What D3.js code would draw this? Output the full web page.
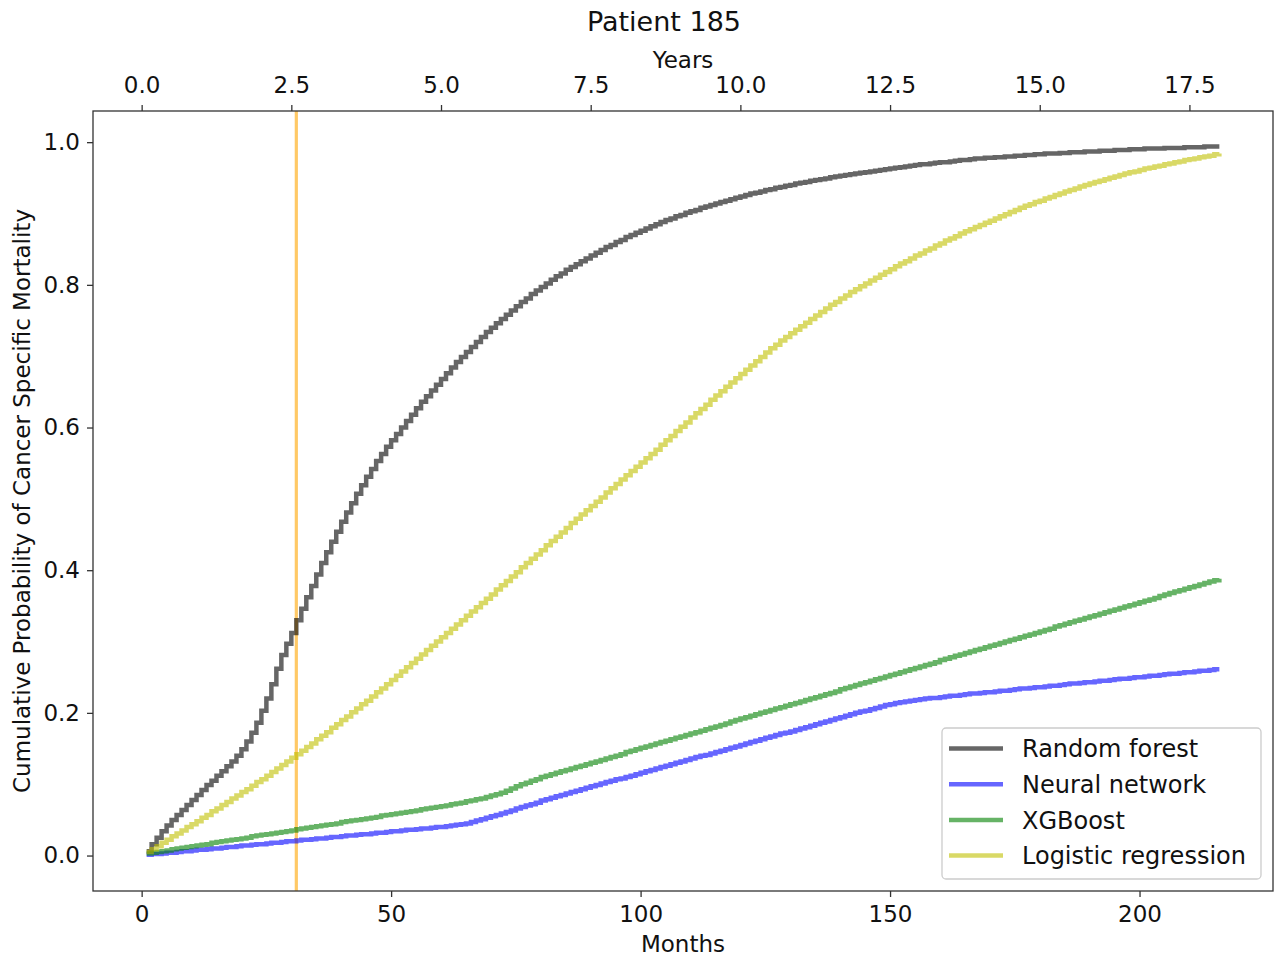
<!DOCTYPE html>
<html>
<head>
<meta charset="utf-8">
<script src="https://cdn.jsdelivr.net/npm/d3@7"></script>
<style>
  body { margin: 0; background: #ffffff; }
  text { font-family: "DejaVu Sans", sans-serif; fill: #111111; }
</style>
</head>
<body>
<svg id="chart" width="1282" height="960"></svg>
<script>
// ---- data: cumulative probability of cancer specific mortality, one value per month (months 1..216)
const chartTitle = "Patient 185";
const seriesNames = ["Random forest", "Neural network", "XGBoost", "Logistic regression"];

const randomForest = [
  0.006,0.016,0.025,0.034,0.042,0.050,0.057,0.064,0.071,0.078,
  0.085,0.092,0.099,0.105,0.112,0.118,0.125,0.132,0.140,0.149,
  0.160,0.172,0.186,0.203,0.220,0.240,0.262,0.281,0.297,0.312,
  0.330,0.346,0.362,0.378,0.394,0.410,0.425,0.440,0.454,0.468,
  0.481,0.494,0.507,0.519,0.531,0.542,0.553,0.563,0.573,0.582,
  0.591,0.600,0.609,0.618,0.627,0.636,0.644,0.652,0.660,0.668,
  0.676,0.684,0.692,0.699,0.706,0.713,0.720,0.727,0.734,0.740,
  0.746,0.752,0.758,0.764,0.770,0.776,0.781,0.787,0.792,0.797,
  0.802,0.807,0.812,0.816,0.821,0.825,0.829,0.833,0.837,0.841,
  0.845,0.849,0.853,0.856,0.860,0.863,0.867,0.870,0.873,0.876,
  0.879,0.882,0.885,0.888,0.891,0.893,0.896,0.898,0.901,0.903,
  0.905,0.908,0.910,0.912,0.914,0.916,0.918,0.920,0.922,0.924,
  0.926,0.928,0.929,0.931,0.933,0.934,0.936,0.937,0.939,0.940,
  0.942,0.943,0.944,0.946,0.947,0.948,0.949,0.951,0.952,0.953,
  0.954,0.955,0.956,0.957,0.958,0.959,0.960,0.961,0.962,0.963,
  0.964,0.965,0.966,0.967,0.968,0.969,0.969,0.970,0.971,0.972,
  0.972,0.973,0.974,0.975,0.975,0.976,0.977,0.977,0.978,0.978,
  0.979,0.979,0.980,0.980,0.981,0.981,0.982,0.982,0.983,0.983,
  0.984,0.984,0.984,0.985,0.985,0.986,0.986,0.986,0.987,0.987,
  0.987,0.988,0.988,0.988,0.989,0.989,0.989,0.990,0.990,0.990,
  0.991,0.991,0.991,0.991,0.992,0.992,0.992,0.992,0.993,0.993,
  0.993,0.993,0.994,0.994,0.994,0.994
];

const neuralNetwork = [
  0.001,0.002,0.002,0.003,0.004,0.004,0.005,0.006,0.006,0.007,
  0.008,0.008,0.009,0.010,0.010,0.011,0.012,0.012,0.013,0.014,
  0.014,0.015,0.016,0.016,0.017,0.018,0.018,0.019,0.020,0.020,
  0.021,0.022,0.022,0.023,0.024,0.024,0.025,0.026,0.026,0.027,
  0.028,0.028,0.029,0.030,0.030,0.031,0.032,0.032,0.033,0.034,
  0.034,0.035,0.036,0.036,0.037,0.038,0.038,0.039,0.040,0.040,
  0.041,0.042,0.043,0.044,0.045,0.047,0.049,0.051,0.053,0.055,
  0.057,0.059,0.061,0.063,0.066,0.068,0.070,0.072,0.074,0.077,
  0.079,0.081,0.083,0.085,0.087,0.089,0.091,0.093,0.095,0.097,
  0.099,0.101,0.103,0.105,0.107,0.108,0.110,0.112,0.114,0.116,
  0.118,0.120,0.122,0.124,0.126,0.128,0.130,0.132,0.134,0.136,
  0.138,0.140,0.141,0.143,0.145,0.147,0.149,0.151,0.153,0.155,
  0.157,0.159,0.161,0.163,0.165,0.167,0.169,0.171,0.172,0.174,
  0.176,0.178,0.180,0.182,0.184,0.186,0.188,0.190,0.192,0.194,
  0.196,0.198,0.200,0.202,0.203,0.205,0.207,0.209,0.211,0.212,
  0.214,0.215,0.216,0.217,0.218,0.219,0.220,0.221,0.221,0.222,
  0.223,0.224,0.224,0.225,0.226,0.227,0.227,0.228,0.229,0.229,
  0.230,0.231,0.231,0.232,0.233,0.234,0.234,0.235,0.236,0.236,
  0.237,0.238,0.238,0.239,0.240,0.241,0.241,0.242,0.243,0.243,
  0.244,0.245,0.245,0.246,0.247,0.248,0.248,0.249,0.250,0.250,
  0.251,0.252,0.252,0.253,0.254,0.255,0.255,0.256,0.257,0.257,
  0.258,0.259,0.259,0.260,0.261,0.261
];

const xgBoost = [
  0.003,0.004,0.005,0.006,0.007,0.009,0.010,0.011,0.012,0.013,
  0.014,0.015,0.016,0.018,0.019,0.020,0.021,0.022,0.023,0.024,
  0.025,0.027,0.028,0.029,0.030,0.031,0.032,0.033,0.034,0.035,
  0.037,0.038,0.039,0.040,0.041,0.042,0.043,0.044,0.045,0.047,
  0.048,0.049,0.050,0.051,0.052,0.053,0.054,0.056,0.057,0.058,
  0.059,0.060,0.061,0.062,0.063,0.065,0.066,0.067,0.068,0.069,
  0.070,0.072,0.073,0.074,0.076,0.077,0.079,0.080,0.082,0.084,
  0.086,0.088,0.091,0.094,0.097,0.100,0.102,0.105,0.107,0.110,
  0.112,0.114,0.116,0.118,0.120,0.122,0.124,0.126,0.128,0.130,
  0.132,0.134,0.136,0.138,0.140,0.142,0.145,0.147,0.149,0.151,
  0.153,0.155,0.157,0.159,0.161,0.163,0.165,0.167,0.169,0.171,
  0.173,0.175,0.177,0.179,0.181,0.183,0.185,0.188,0.190,0.192,
  0.194,0.196,0.198,0.200,0.202,0.204,0.206,0.208,0.210,0.212,
  0.214,0.216,0.218,0.220,0.222,0.224,0.226,0.228,0.230,0.233,
  0.235,0.237,0.239,0.241,0.243,0.245,0.247,0.249,0.251,0.253,
  0.255,0.257,0.259,0.261,0.263,0.265,0.267,0.269,0.271,0.274,
  0.276,0.278,0.280,0.282,0.284,0.286,0.288,0.290,0.292,0.294,
  0.296,0.298,0.300,0.302,0.304,0.306,0.308,0.310,0.312,0.314,
  0.316,0.318,0.321,0.323,0.325,0.327,0.329,0.331,0.333,0.335,
  0.337,0.339,0.341,0.343,0.345,0.347,0.349,0.351,0.353,0.355,
  0.357,0.359,0.361,0.364,0.366,0.368,0.370,0.372,0.374,0.376,
  0.378,0.380,0.382,0.384,0.386,0.388
];

const logisticRegression = [
  0.005,0.009,0.013,0.018,0.022,0.027,0.031,0.035,0.040,0.044,
  0.048,0.053,0.057,0.062,0.066,0.071,0.075,0.080,0.084,0.089,
  0.093,0.098,0.103,0.107,0.112,0.117,0.122,0.127,0.132,0.137,
  0.142,0.147,0.152,0.157,0.163,0.168,0.173,0.179,0.184,0.190,
  0.195,0.201,0.206,0.212,0.217,0.223,0.229,0.234,0.240,0.246,
  0.252,0.258,0.264,0.270,0.276,0.282,0.288,0.294,0.300,0.306,
  0.312,0.318,0.324,0.330,0.336,0.342,0.348,0.354,0.360,0.366,
  0.373,0.379,0.385,0.391,0.397,0.404,0.410,0.416,0.422,0.428,
  0.435,0.441,0.447,0.453,0.459,0.466,0.472,0.478,0.484,0.490,
  0.496,0.502,0.509,0.515,0.521,0.527,0.533,0.539,0.545,0.551,
  0.557,0.563,0.569,0.576,0.582,0.588,0.595,0.601,0.607,0.614,
  0.620,0.626,0.632,0.639,0.645,0.651,0.657,0.663,0.669,0.675,
  0.681,0.687,0.693,0.699,0.705,0.711,0.716,0.722,0.727,0.732,
  0.737,0.742,0.747,0.752,0.757,0.762,0.767,0.772,0.776,0.781,
  0.785,0.790,0.794,0.798,0.802,0.806,0.810,0.814,0.818,0.822,
  0.826,0.830,0.833,0.837,0.841,0.844,0.848,0.851,0.855,0.858,
  0.862,0.865,0.868,0.872,0.875,0.878,0.881,0.884,0.887,0.890,
  0.893,0.896,0.899,0.902,0.905,0.908,0.911,0.913,0.916,0.918,
  0.921,0.923,0.926,0.928,0.931,0.933,0.935,0.938,0.940,0.942,
  0.944,0.946,0.948,0.950,0.952,0.954,0.956,0.958,0.959,0.961,
  0.963,0.964,0.966,0.967,0.969,0.970,0.972,0.973,0.975,0.976,
  0.977,0.979,0.980,0.981,0.983,0.984
];

const monthTicks = [0, 50, 100, 150, 200];
const yearTicks = [0, 2.5, 5, 7.5, 10, 12.5, 15, 17.5];
const probTicks = [0, 0.2, 0.4, 0.6, 0.8, 1.0];
const markerMonth = 31;   // time of the current assessment

// ---- layout
const svg = d3.select("#chart");
const plot = { left: 93, right: 1273, top: 111, bottom: 891 };
const monthsPerYear = 12;

const x = d3.scaleLinear().domain([-9.75, 226.75]).range([plot.left, plot.right]);
const y = d3.scaleLinear().domain([-0.0497, 1.0437]).range([plot.bottom, plot.top]);

const series = [
  { name: seriesNames[0], values: randomForest,       color: "#000000" },
  { name: seriesNames[1], values: neuralNetwork,      color: "#0000ff" },
  { name: seriesNames[2], values: xgBoost,            color: "#008000" },
  { name: seriesNames[3], values: logisticRegression, color: "#bfbf00" }
];

const axisColor = "#333333";
const tickFont = 23;

// ---- clip to plot area
svg.append("defs").append("clipPath").attr("id", "plotClip")
  .append("rect")
  .attr("x", plot.left).attr("y", plot.top)
  .attr("width", plot.right - plot.left).attr("height", plot.bottom - plot.top);

const body = svg.append("g").attr("clip-path", "url(#plotClip)");

// vertical marker line
body.append("line")
  .attr("x1", x(markerMonth)).attr("x2", x(markerMonth))
  .attr("y1", plot.top).attr("y2", plot.bottom)
  .attr("stroke", "#ffa500").attr("stroke-opacity", 0.6)
  .attr("stroke-width", 3.2);

// step lines, one point per month
const line = d3.line()
  .x((d, i) => x(i + 1))
  .y(d => y(d))
  .curve(d3.curveStepAfter);

series.forEach(s => {
  body.append("path")
    .datum(s.values)
    .attr("d", line)
    .attr("fill", "none")
    .attr("stroke", s.color)
    .attr("stroke-opacity", 0.6)
    .attr("stroke-width", 4.5)
    .attr("stroke-linejoin", "miter")
    .attr("stroke-linecap", "butt");
});

// ---- axes
function styleAxis(g) {
  g.selectAll("path.domain").remove();
  g.selectAll(".tick line").attr("stroke", axisColor).attr("stroke-width", 1.3);
  g.selectAll(".tick text")
    .style("font-family", "'DejaVu Sans', sans-serif")
    .style("font-size", tickFont + "px")
    .attr("fill", "#111111");
}

const bottomAxis = d3.axisBottom(x).tickValues(monthTicks)
  .tickFormat(d3.format("d")).tickSize(6).tickPadding(9);
svg.append("g").attr("transform", `translate(0,${plot.bottom})`).call(bottomAxis).call(styleAxis);

const yearScale = d3.scaleLinear()
  .domain(x.domain().map(m => m / monthsPerYear))
  .range(x.range());
const topAxis = d3.axisTop(yearScale).tickValues(yearTicks)
  .tickFormat(d3.format(".1f")).tickSize(6).tickPadding(12);
svg.append("g").attr("transform", `translate(0,${plot.top})`).call(topAxis).call(styleAxis);

const leftAxis = d3.axisLeft(y).tickValues(probTicks)
  .tickFormat(d3.format(".1f")).tickSize(6).tickPadding(7);
svg.append("g").attr("transform", `translate(${plot.left},0)`).call(leftAxis).call(styleAxis);

// frame
svg.append("rect")
  .attr("x", plot.left).attr("y", plot.top)
  .attr("width", plot.right - plot.left).attr("height", plot.bottom - plot.top)
  .attr("fill", "none").attr("stroke", axisColor).attr("stroke-width", 1.3);

// ---- titles and axis labels
const midX = (plot.left + plot.right) / 2;
svg.append("text").attr("x", 664).attr("y", 31)
  .attr("text-anchor", "middle").style("font-size", "27px").text(chartTitle);
svg.append("text").attr("x", midX).attr("y", 68)
  .attr("text-anchor", "middle").style("font-size", "23px").text("Years");
svg.append("text").attr("x", midX).attr("y", 952)
  .attr("text-anchor", "middle").style("font-size", "23px").text("Months");
svg.append("text")
  .attr("transform", `translate(30,${(plot.top + plot.bottom) / 2}) rotate(-90)`)
  .attr("text-anchor", "middle").style("font-size", "23px")
  .text("Cumulative Probability of Cancer Specific Mortality");

// ---- legend
const legend = svg.append("g").attr("transform", "translate(942,728)");
legend.append("rect")
  .attr("x", 0).attr("y", 0).attr("width", 319).attr("height", 151)
  .attr("rx", 4).attr("ry", 4)
  .attr("fill", "#ffffff").attr("fill-opacity", 0.8)
  .attr("stroke", "#cccccc").attr("stroke-width", 1.3);

series.forEach((s, i) => {
  const rowY = 20.5 + i * 35.7;
  legend.append("line")
    .attr("x1", 7).attr("x2", 61).attr("y1", rowY).attr("y2", rowY)
    .attr("stroke", s.color).attr("stroke-opacity", 0.6).attr("stroke-width", 4.5);
  legend.append("text")
    .attr("x", 80).attr("y", rowY).attr("dy", "0.36em")
    .style("font-size", "24px").text(s.name);
});
</script>
</body>
</html>
